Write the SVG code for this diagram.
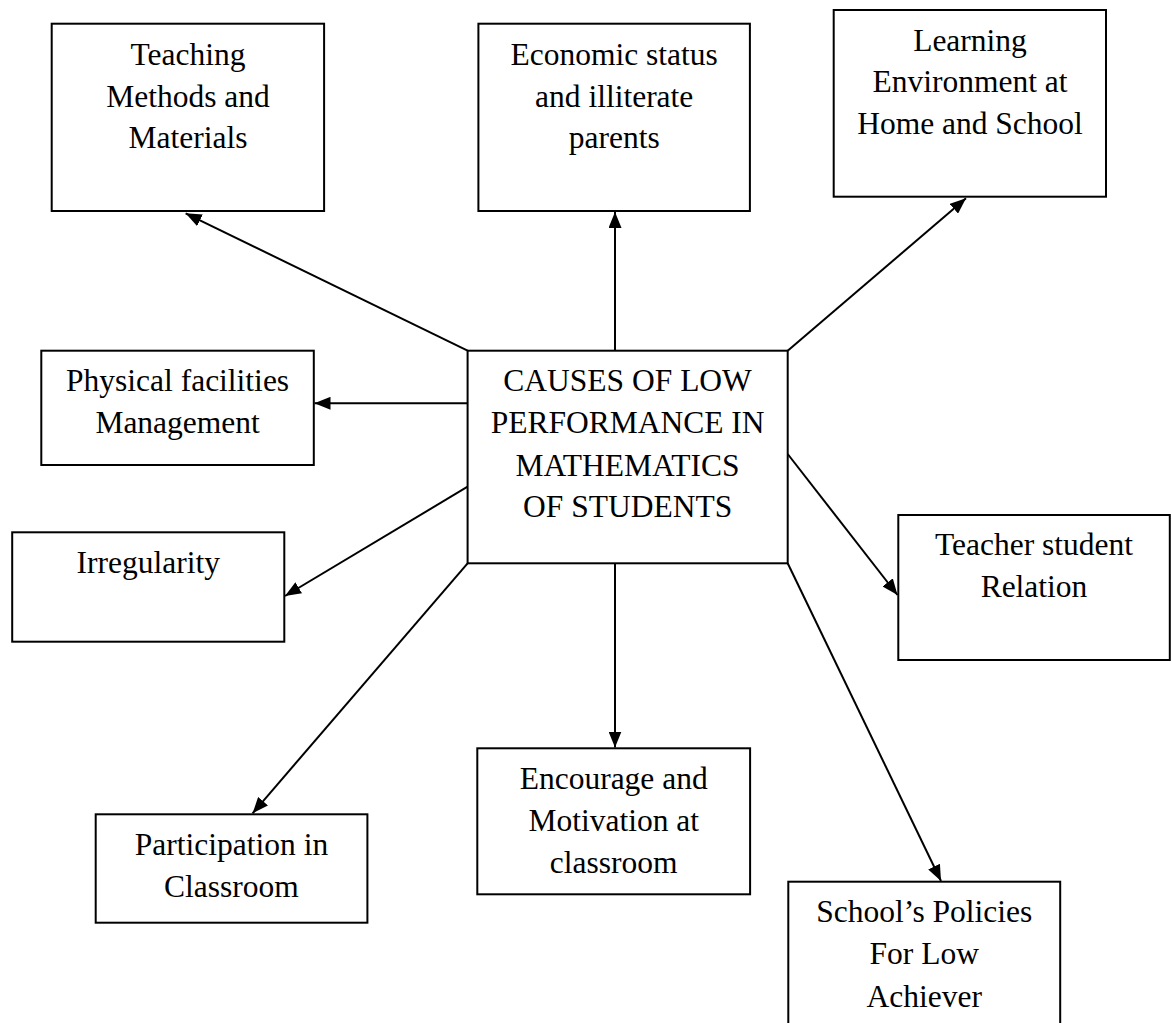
<svg xmlns="http://www.w3.org/2000/svg" width="1172" height="1023" viewBox="0 0 1172 1023">
  <style>
    .box { fill: #ffffff; stroke: #000000; stroke-width: 2; }
    .lbl { font-family: "Liberation Serif", "Times New Roman", serif; font-size: 31.5px; fill: #000000; text-anchor: middle; }
    .edge { stroke: #000000; stroke-width: 2; fill: none; marker-end: url(#arrow); }
    .plain { stroke: #000000; stroke-width: 2; fill: none; }
  </style>
  <defs>
    <marker id="arrow" markerUnits="userSpaceOnUse" markerWidth="16" markerHeight="13" refX="16" refY="6.5" orient="auto">
      <path d="M0,0 L16,6.5 L0,13 Z" fill="#000000"/>
    </marker>
  </defs>
  <rect width="1172" height="1023" fill="#ffffff"/>

  <!-- connectors from the central box to each cause -->
  <g id="connectors">
    <line class="edge" x1="467.6" y1="350.7" x2="185.6" y2="213.3"/>
    <line class="edge" x1="615" y1="350.7" x2="615" y2="212"/>
    <line class="edge" x1="787.7" y1="350.7" x2="966" y2="198.3"/>
    <line class="edge" x1="467.6" y1="403.3" x2="314.5" y2="403.3"/>
    <line class="edge" x1="467.6" y1="486.7" x2="285" y2="596"/>
    <line class="edge" x1="787.7" y1="454" x2="897.5" y2="595"/>
    <line class="edge" x1="467.6" y1="563.3" x2="252.6" y2="813.3"/>
    <line class="edge" x1="615" y1="563.3" x2="615" y2="747.5"/>
    <line class="edge" x1="787.7" y1="563.3" x2="941" y2="881"/>
  </g>

  <g id="center">
    <rect class="box" x="467.6" y="350.7" width="320.1" height="212.6"/>
    <text class="lbl" x="627.6" y="390.7">CAUSES OF LOW</text>
    <text class="lbl" x="627.6" y="433.3">PERFORMANCE IN</text>
    <text class="lbl" x="627.6" y="475.7">MATHEMATICS</text>
    <text class="lbl" x="627.6" y="517.3">OF STUDENTS</text>
  </g>

  <g id="teaching">
    <rect class="box" x="51.7" y="23.7" width="272.4" height="187.3"/>
    <text class="lbl" x="188" y="65">Teaching</text>
    <text class="lbl" x="188" y="106.7">Methods and</text>
    <text class="lbl" x="188" y="148.3">Materials</text>
  </g>

  <g id="economic">
    <rect class="box" x="478.4" y="23.7" width="271.5" height="187.3"/>
    <text class="lbl" x="614.2" y="65">Economic status</text>
    <text class="lbl" x="614.2" y="106.7">and illiterate</text>
    <text class="lbl" x="614.2" y="148.3">parents</text>
  </g>

  <g id="learning">
    <rect class="box" x="833.7" y="10" width="272.3" height="186.7"/>
    <text class="lbl" x="970" y="50.7">Learning</text>
    <text class="lbl" x="970" y="92">Environment at</text>
    <text class="lbl" x="970" y="134">Home and School</text>
  </g>

  <g id="physical">
    <rect class="box" x="41.3" y="350.7" width="272.5" height="114.3"/>
    <text class="lbl" x="177.6" y="390.7">Physical facilities</text>
    <text class="lbl" x="177.6" y="433.3">Management</text>
  </g>

  <g id="irregularity">
    <rect class="box" x="12.2" y="532.3" width="272.1" height="109.4"/>
    <text class="lbl" x="148.3" y="572.7">Irregularity</text>
  </g>

  <g id="teacher">
    <rect class="box" x="898.3" y="515" width="271.5" height="145"/>
    <text class="lbl" x="1034" y="555">Teacher student</text>
    <text class="lbl" x="1034" y="596.7">Relation</text>
  </g>

  <g id="participation">
    <rect class="box" x="95.7" y="814.3" width="271.7" height="108.4"/>
    <text class="lbl" x="231.5" y="855">Participation in</text>
    <text class="lbl" x="231.5" y="896.7">Classroom</text>
  </g>

  <g id="encourage">
    <rect class="box" x="477.3" y="748.3" width="272.8" height="146"/>
    <text class="lbl" x="613.7" y="789.3">Encourage and</text>
    <text class="lbl" x="613.7" y="831">Motivation at</text>
    <text class="lbl" x="613.7" y="873.3">classroom</text>
  </g>

  <g id="policies">
    <rect class="box" x="788.3" y="881.7" width="271.9" height="160"/>
    <text class="lbl" x="924.2" y="921.7">School’s Policies</text>
    <text class="lbl" x="924.2" y="964">For Low</text>
    <text class="lbl" x="924.2" y="1007.3">Achiever</text>
  </g>
</svg>
